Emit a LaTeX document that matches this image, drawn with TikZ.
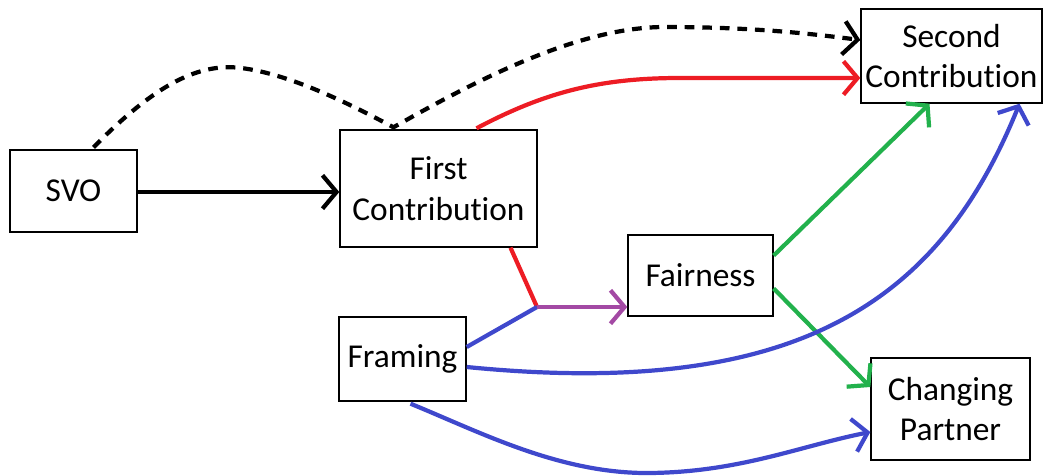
\documentclass[tikz,border=0pt]{standalone}
\usepackage{fontspec}
\setmainfont[Ligatures={NoCommon,NoRequired,NoContextual},RawFeature={-liga;-clig;-calt;-dlig}]{Carlito}
\usepackage{tikz}
\usetikzlibrary{arrows.meta,calc}
\definecolor{pred}{RGB}{237,28,36}
\definecolor{pgreen}{RGB}{34,177,76}
\definecolor{pblue}{RGB}{63,72,204}
\definecolor{ppurple}{RGB}{163,73,164}

\begin{document}
\begin{tikzpicture}[x=0.02cm,y=-0.02cm,
   box/.style={draw,line width=0.8pt,align=center,inner sep=0pt,font=\fontsize{19}{23}\selectfont},
   link/.style={line width=2.4pt},
   >={Straight Barb[length=8pt,width=19pt]}]
   \useasboundingbox (0,0) rectangle (1047,476);
   \node[box,minimum width=2.54cm,minimum height=1.64cm] (svo) at (73.5,191) {SVO};
   \node[box,minimum width=3.94cm,minimum height=2.34cm] (fc) at (438.5,188.5) {First\\Contribution};
   \node[box,minimum width=3.62cm,minimum height=1.88cm] (sc) at (951.5,56) {Second\\Contribution};
   \node[box,minimum width=2.90cm,minimum height=1.62cm] (fai) at (700.5,275.5) {Fairness};
   \node[box,minimum width=2.54cm,minimum height=1.68cm] (fra) at (402.5,359) {Framing};
   \node[box,minimum width=3.18cm,minimum height=2.04cm] (cp) at (950.5,409) {Changing\\Partner};
   \coordinate (j) at (537,307);
   \draw[link,->] ($(svo.east)+(0,1)$) -- ($(svo.east -| fc.west)+(0,1)$);
   \draw[link,->,dash pattern=on 5.5pt off 4.5pt] ($(svo.north)+(20,-2)$) .. controls (150,90) and (195,62) .. (241,68)
      .. controls (290,74) and (350,104) .. ($(fc.north)+(-45,-2)$)
      .. controls (480,78) and (580,27) .. (665,27) .. controls (760,27) and (820,35) .. ($(sc.west)+(0,-16)$);
   \draw[link,pred,->] ($(fc.north)+(38,-1)$) .. controls (545,92) and (600,78) .. (680,78) -- ($(sc.west)+(0,22)$);
   \draw[link,pred] ($(fc.south)+(72,0)$) -- (j);
   \draw[link,pblue] ($(fra.east)+(0,-12)$) -- (j);
   \draw[link,ppurple,->] (j) -- (j -| fai.west);
   \draw[link,pgreen,->] ($(fai.east)+(0,-20)$) -- ($(sc.south)+(-22,0)$);
   \draw[link,pgreen,->] ($(fai.east)+(0,13)$) -- ($(cp.west)+(0,-22)$);
   \draw[link,pblue,->] ($(fra.east)+(0,8)$) .. controls (800,400) and (940,300) .. ($(sc.south)+(68,0)$);
   \draw[link,pblue,->] ($(fra.south)+(8,2)$) .. controls (480,432) and (560,474) .. (650,473)
      .. controls (740,472) and (800,446) .. ($(cp.west)+(0,23)$);
\end{tikzpicture}
\end{document}
